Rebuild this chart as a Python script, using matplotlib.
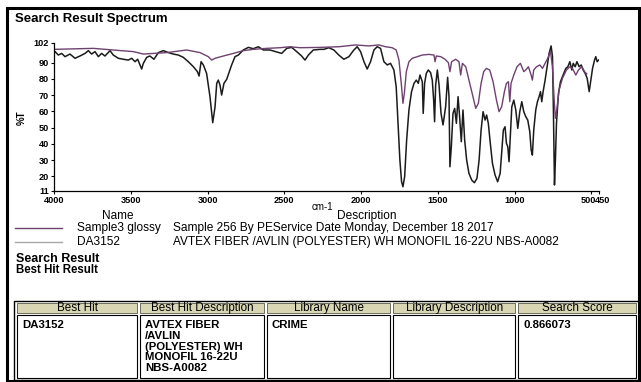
import matplotlib
matplotlib.use("Agg")
import matplotlib.pyplot as plt
from matplotlib.patches import Rectangle
from matplotlib.transforms import ScaledTranslation

plt.rcParams["font.family"] = ["Liberation Sans", "DejaVu Sans"]

# reference library spectrum (DA3152)
ref_wn = [4000, 3993, 3972, 3950, 3928, 3896, 3863, 3831, 3798, 3776, 3755, 3733, 3711, 3690,
          3668, 3635, 3614, 3581, 3548, 3516, 3494, 3472, 3455, 3440, 3429, 3418, 3396, 3375,
          3349, 3320, 3288, 3255, 3223, 3190, 3158, 3125, 3092, 3066, 3055, 3042, 3027, 3006,
          2984, 2966, 2951, 2940, 2930, 2919, 2908, 2893, 2875, 2858, 2843, 2821, 2799, 2767,
          2734, 2702, 2669, 2636, 2593, 2550, 2517, 2484, 2452, 2419, 2387, 2365, 2343, 2311,
          2267, 2242, 2210, 2177, 2145, 2112, 2079, 2047, 2025, 2003, 1981, 1960, 1938, 1916,
          1895, 1873, 1851, 1829, 1808, 1786, 1771, 1758, 1747, 1736, 1727, 1716, 1703, 1688,
          1671, 1655, 1640, 1627, 1616, 1601, 1595, 1586, 1575, 1562, 1547, 1536, 1527, 1521,
          1514, 1503, 1492, 1479, 1466, 1449, 1436, 1427, 1421, 1412, 1401, 1390, 1379, 1368,
          1358, 1347, 1336, 1325, 1312, 1297, 1279, 1262, 1245, 1231, 1218, 1205, 1192, 1182,
          1171, 1158, 1144, 1127, 1110, 1094, 1084, 1073, 1062, 1053, 1044, 1036, 1029, 1018,
          1005, 992, 979, 966, 953, 940, 927, 914, 901, 892, 884, 875, 862, 851, 840, 831,
          823, 814, 801, 788, 775, 762, 753, 747, 740, 734, 727, 714, 701, 684, 666, 653,
          640, 627, 618, 605, 594, 579, 566, 553, 540, 527, 514, 503, 492, 479, 471, 462, 453]
ref_t = [95.5, 96.7, 94.6, 95.6, 93.6, 95.2, 92.6, 94.0, 95.6, 97.3, 95.2, 96.7, 93.6, 95.6,
         94.0, 97.3, 94.6, 92.6, 92.0, 91.5, 92.6, 90.5, 92.0, 88.5, 86.0, 89.5, 93.2, 94.0,
         92.0, 96.1, 97.3, 96.1, 95.2, 94.6, 93.2, 90.5, 87.4, 84.4, 81.7, 90.5, 88.5, 83.3,
         69.0, 53.0, 62.8, 77.2, 79.2, 76.2, 70.0, 77.2, 79.7, 84.4, 88.5, 93.6, 94.6, 97.7,
         99.3, 98.5, 99.7, 97.7, 97.7, 96.5, 95.6, 98.7, 99.3, 96.7, 94.0, 91.5, 94.6, 97.7,
         98.1, 98.1, 99.1, 97.7, 94.6, 92.0, 93.6, 97.7, 99.7, 96.7, 90.5, 86.0, 90.5, 97.7,
         99.7, 98.7, 90.5, 88.5, 89.5, 85.4, 75.1, 50.5, 30.0, 16.7, 13.6, 19.8, 42.3, 60.8,
         72.1, 77.2, 79.2, 77.2, 82.3, 78.2, 58.7, 77.2, 83.3, 85.4, 83.8, 79.2, 66.9, 53.6,
         76.2, 85.4, 76.2, 58.7, 51.6, 62.8, 80.9, 69.0, 25.9, 38.2, 58.7, 61.8, 52.6, 69.0,
         56.7, 41.3, 60.8, 42.3, 30.0, 21.8, 17.7, 16.1, 18.7, 30.0, 48.5, 59.8, 54.6, 57.7,
         52.6, 40.3, 28.0, 20.8, 16.7, 21.8, 34.1, 48.5, 50.5, 40.3, 38.2, 29.0, 42.3, 62.8,
         66.9, 60.8, 49.5, 59.8, 65.9, 59.8, 56.7, 54.6, 47.5, 36.2, 33.1, 48.5, 60.8, 65.9, 69.0, 72.1,
         65.9, 72.1, 79.2, 87.4, 95.6, 100.2, 93.6, 60.8, 14.7, 30.0, 52.6, 71.0, 78.2, 82.3, 86.4, 87.4,
         90.5, 85.4, 89.5, 87.4, 90.5, 87.4, 88.5, 85.4, 83.3, 80.3, 72.1, 79.2, 86.4, 91.5, 93.6, 90.5, 91.5]

# measured sample spectrum (Sample3 glossy)
smp_wn = [4000, 3744, 3483, 3418, 3266, 3136, 3049, 2995, 2973, 2951, 2897, 2832, 2767, 2702,
          2615, 2528, 2463, 2398, 2267, 2145, 2036, 1949, 1884, 1840, 1797, 1771, 1753, 1736,
          1727, 1718, 1705, 1688, 1666, 1634, 1601, 1558, 1525, 1518, 1510, 1481, 1453, 1431,
          1421, 1410, 1384, 1362, 1351, 1340, 1318, 1292, 1271, 1253, 1236, 1218, 1201, 1184,
          1162, 1140, 1118, 1101, 1084, 1066, 1053, 1040, 1031, 1023, 1005, 984, 962, 940,
          927, 910, 892, 884, 875, 857, 836, 818, 801, 784, 766, 753, 742, 734, 725, 710,
          688, 662, 640, 623, 601, 584, 562, 544, 530]
smp_t = [98.1, 98.7, 96.7, 95.2, 96.1, 97.7, 96.1, 93.6, 91.5, 92.6, 94.0, 95.6, 97.3, 98.1,
         98.7, 99.1, 99.7, 99.1, 99.3, 99.7, 100.8, 100.2, 100.8, 99.7, 99.1, 97.7, 91.5, 75.1,
         64.9, 71.0, 84.4, 90.5, 92.6, 93.6, 94.6, 95.0, 94.6, 90.5, 94.0, 93.6, 92.0, 89.9,
         84.4, 90.5, 92.0, 90.5, 82.3, 89.5, 87.4, 77.2, 69.0, 61.8, 64.9, 77.2, 84.4, 86.4,
         85.4, 78.2, 66.9, 59.8, 62.8, 72.1, 77.2, 78.2, 65.9, 77.2, 82.3, 87.4, 89.5, 84.4,
         85.4, 87.4, 82.3, 79.2, 85.4, 87.4, 88.5, 86.4, 89.5, 92.6, 96.7, 87.4, 66.9, 55.7, 60.8, 73.1,
         80.3, 85.4, 87.4, 86.4, 82.3, 85.4, 87.4, 84.4, 83.0]

x_ticks = [4000, 3500, 3000, 2500, 2000, 1500, 1000, 500, 450]
y_ticks = [11, 20, 30, 40, 50, 60, 70, 80, 90, 102]

legend_names = ["Sample3 glossy", "DA3152"]
legend_desc = ["Sample 256 By PEService Date Monday, December 18 2017",
               "AVTEX FIBER /AVLIN (POLYESTER) WH MONOFIL 16-22U NBS-A0082"]

col_headers = ["Best Hit", "Best Hit Description", "Library Name", "Library Description", "Search Score"]
row_values = [["DA3152"],
              ["AVTEX FIBER", "/AVLIN", "(POLYESTER) WH", "MONOFIL 16-22U", "NBS-A0082"],
              ["CRIME"], [], ["0.866073"]]
col_edges = [16, 139, 266, 392, 517, 638]

W, H = 641, 382
PURPLE = "#6f4170"
fig = plt.figure(figsize=(W / 100, H / 100), dpi=100)

# page overlay in pixel coordinates
pg = fig.add_axes([0, 0, 1, 1])
pg.set_xlim(0, W)
pg.set_ylim(H, 0)
pg.axis("off")

pg.add_patch(Rectangle((7, 8), 632, 373, fill=False, ec="black", lw=2.2))
pg.text(15, 19, "Search Result Spectrum", fontsize=9.5, fontweight="bold", va="center")

# spectrum axes
ax = fig.add_axes([54 / W, 1 - 191 / H, (599 - 54) / W, (191 - 43) / H])
ax.plot(ref_wn, ref_t, color="#1b1b1b", lw=1.1)
ax.plot(smp_wn, smp_t, color=PURPLE, lw=1.0)
ax.set_xlim(4000, 450)
ax.set_ylim(11, 102)
ax.set_xticks(x_ticks)
ax.set_yticks(y_ticks)
ax.set_xticklabels([str(t) for t in x_ticks], fontsize=6.6, fontweight="bold")
ax.set_yticklabels([str(t) for t in y_ticks], fontsize=6.6, fontweight="bold")
ax.tick_params(length=2.5, width=0.8, pad=1)
for s in ["top", "right"]:
    ax.spines[s].set_visible(False)
for s in ["left", "bottom"]:
    ax.spines[s].set_linewidth(0.9)
labels = ax.get_xticklabels()
labels[-2].set_transform(labels[-2].get_transform() + ScaledTranslation(-3 / 100, 0, fig.dpi_scale_trans))
labels[-1].set_transform(labels[-1].get_transform() + ScaledTranslation(4 / 100, 0, fig.dpi_scale_trans))

pg.text(22, 118, "%T", fontsize=7, fontweight="bold", rotation=90, ha="center", va="center")
pg.text(322, 207, "cm-1", fontsize=7, ha="center", va="center")

# legend block
pg.text(118, 216, "Name", fontsize=8.5, ha="center", va="center")
pg.text(367, 216, "Description", fontsize=8.6, ha="center", va="center")
leg_colors = [PURPLE, "#a8a8a8"]
for i, (nm, ds) in enumerate(zip(legend_names, legend_desc)):
    y = 228 + i * 14
    pg.plot([15, 62], [y, y], color=leg_colors[i], lw=1.0)
    pg.text(77, y, nm, fontsize=8.6, va="center")
    pg.text(173, y, ds, fontsize=8.6, va="center")

pg.text(16, 259, "Search Result", fontsize=9, fontweight="bold", va="center")
pg.text(16, 270, "Best Hit Result", fontsize=8.3, fontweight="bold", va="center")

# result table
pg.add_patch(Rectangle((14, 301), 625, 79, fill=False, ec="black", lw=1.0))
for i in range(len(col_headers)):
    x0, x1 = col_edges[i], col_edges[i + 1]
    pg.add_patch(Rectangle((x0 + 1, 303), x1 - x0 - 3, 9.5, fc="#d9d7b3", ec="#5a5a48", lw=0.6))
    pg.text((x0 + x1) / 2, 307.8, col_headers[i], fontsize=8.4, ha="center", va="center")
    pg.add_patch(Rectangle((x0 + 1, 314.5), x1 - x0 - 3, 63.5, fill=False, ec="black", lw=0.8))
    for k, line in enumerate(row_values[i]):
        pg.text(x0 + 6, 325 + k * 10.8, line, fontsize=8.2, fontweight="bold", va="center")

fig.savefig("out.png", dpi=100)
